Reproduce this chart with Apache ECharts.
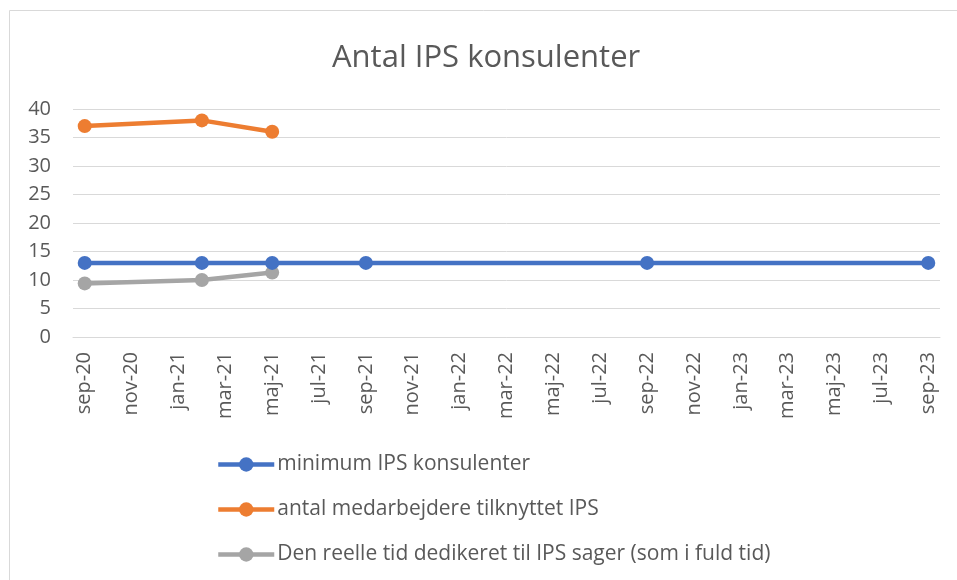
<!DOCTYPE html>
<html>
<head>
<meta charset="utf-8">
<script src="https://cdn.jsdelivr.net/npm/echarts@6/dist/echarts.min.js"></script>
<style>html,body{margin:0;padding:0;background:#fff}#c{width:957px;height:580px}</style>
</head>
<body>
<div id="c"></div>
<script>
var months = ['sep-20','okt-20','nov-20','dec-20','jan-21','feb-21','mar-21','apr-21','maj-21','jun-21','jul-21','aug-21',
  'sep-21','okt-21','nov-21','dec-21','jan-22','feb-22','mar-22','apr-22','maj-22','jun-22','jul-22','aug-22',
  'sep-22','okt-22','nov-22','dec-22','jan-23','feb-23','mar-23','apr-23','maj-23','jun-23','jul-23','aug-23','sep-23'];
var minDates = ['sep-20','feb-21','maj-21','sep-21','sep-22','sep-23'];
var minValues = [13,13,13,13,13,13];
var antalDates = ['sep-20','feb-21','maj-21'];
var antalValues = [37,38,36];
var tidDates = ['sep-20','feb-21','maj-21'];
var tidValues = [9.4,10,11.3];
var seriesNames = ['minimum IPS konsulenter','antal medarbejdere tilknyttet IPS','Den reelle tid dedikeret til IPS sager (som i fuld tid)'];
var colors = ['#4472C4','#ED7D31','#A5A5A5'];

function pairs(d, v){ return d.map(function(x,i){ return [x, v[i]]; }); }
var font = '"Open Sans", sans-serif';
var chart = echarts.init(document.getElementById('c'));
function mk(i, d, v){
  return {
    name: seriesNames[i], type: 'line', data: pairs(d, v),
    symbol: 'circle', symbolSize: 14,
    lineStyle: {width: 4.5, color: colors[i]},
    itemStyle: {color: colors[i]},
    z: 3 - i
  };
}
chart.setOption({
  animation: false,
  color: colors,
  graphic: [{type:'rect', shape:{x:9.5,y:10.5,width:1000,height:1000}, style:{fill:'none', stroke:'#D9D9D9', lineWidth:1}, silent:true}],
  title: {text:'Antal IPS konsulenter', left:327, top:38,
    textStyle:{fontFamily:font, fontSize:31, fontWeight:'normal', color:'#595959'}},
  grid: {left:73, right:17, top:109, bottom:243},
  xAxis: {
    type:'category', data: months, boundaryGap: true,
    axisLine:{lineStyle:{color:'#D9D9D9', width:1}},
    axisTick:{interval:1, length:6, lineStyle:{color:'#D9D9D9'}},
    axisLabel:{interval:1, rotate:90, margin:15, fontFamily:font, fontSize:20, color:'#595959'}
  },
  yAxis: {
    type:'value', min:0, max:40, interval:5,
    axisLine:{show:false}, axisTick:{show:false},
    splitLine:{lineStyle:{color:'#D9D9D9', width:1}},
    axisLabel:{margin:22, fontFamily:font, fontSize:20, color:'#595959'}
  },
  legend: {
    orient:'vertical', left:211, top:449, itemGap:24, itemWidth:56, itemHeight:18,
    lineStyle:{width:4.5},
    textStyle:{fontFamily:font, fontSize:21, color:'#595959', padding:[0,0,0,-2]},
    data: seriesNames
  },
  series: [mk(0, minDates, minValues), mk(1, antalDates, antalValues), mk(2, tidDates, tidValues)]
});
</script>
</body>
</html>
